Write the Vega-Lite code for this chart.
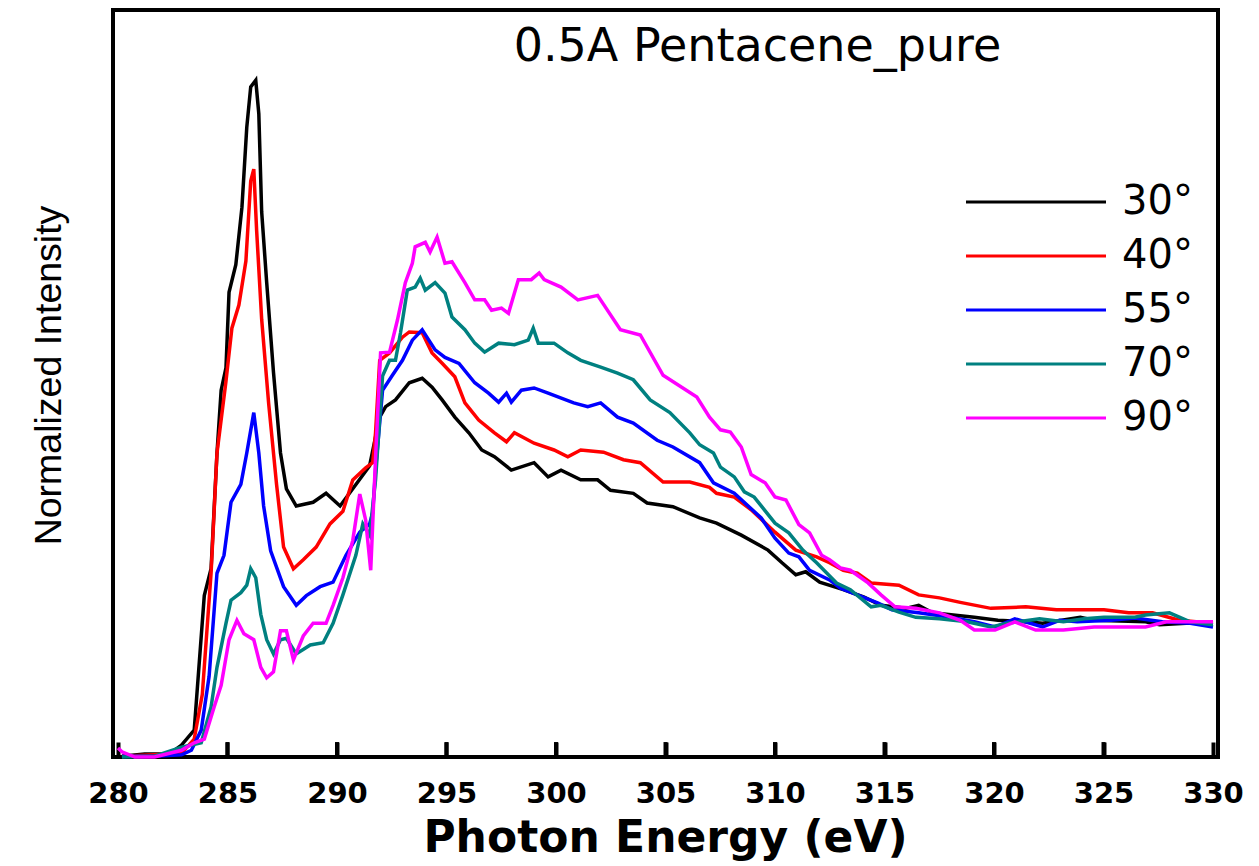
{
  "$schema": "https://vega.github.io/schema/vega-lite/v6.json",
  "width": 1105,
  "height": 747,
  "autosize": {"type": "none"},
  "padding": {"left": 113, "top": 10, "right": 41, "bottom": 109},
  "config": {
    "view": {"stroke": "#000000", "strokeWidth": 4},
    "font": "Liberation Sans"
  },
  "title": {
    "text": "0.5A Pentacene_pure",
    "anchor": "middle",
    "dx": 92,
    "dy": 45,
    "offset": -52,
    "baseline": "alphabetic",
    "font": "DejaVu Sans",
    "fontSize": 46,
    "fontWeight": "normal",
    "color": "black"
  },
  "layer": [
    {
      "data": {"values": [{"e": 285}, {"e": 290}, {"e": 295}, {"e": 300}, {"e": 305}, {"e": 310}, {"e": 315}, {"e": 320}, {"e": 325}]},
      "mark": {"type": "bar", "size": 4, "color": "#000000"},
      "encoding": {
        "x": {"field": "e", "type": "quantitative"},
        "y": {"datum": 0},
        "y2": {"datum": 0.02}
      }
    },
    {
      "data": {
        "values": [
      {"a":"30°","e":280.18,"v":0.001},{"a":"30°","e":281.22,"v":0.004},{"a":"30°","e":282.35,"v":0.004},{"a":"30°","e":282.90,"v":0.016},{"a":"30°","e":283.48,"v":0.036},{"a":"30°","e":283.94,"v":0.216},{"a":"30°","e":284.25,"v":0.252},{"a":"30°","e":284.52,"v":0.407},{"a":"30°","e":284.71,"v":0.491},{"a":"30°","e":284.93,"v":0.521},{"a":"30°","e":285.07,"v":0.622},{"a":"30°","e":285.38,"v":0.659},{"a":"30°","e":285.66,"v":0.736},{"a":"30°","e":285.88,"v":0.843},{"a":"30°","e":286.06,"v":0.897},{"a":"30°","e":286.29,"v":0.906},{"a":"30°","e":286.43,"v":0.861},{"a":"30°","e":286.56,"v":0.730},{"a":"30°","e":286.79,"v":0.635},{"a":"30°","e":287.10,"v":0.515},{"a":"30°","e":287.42,"v":0.407},{"a":"30°","e":287.69,"v":0.359},{"a":"30°","e":288.14,"v":0.336},{"a":"30°","e":288.91,"v":0.341},{"a":"30°","e":289.50,"v":0.353},{"a":"30°","e":290.14,"v":0.336},{"a":"30°","e":290.72,"v":0.359},{"a":"30°","e":291.49,"v":0.390},{"a":"30°","e":291.95,"v":0.455},{"a":"30°","e":292.22,"v":0.469},{"a":"30°","e":292.67,"v":0.478},{"a":"30°","e":293.30,"v":0.501},{"a":"30°","e":293.89,"v":0.507},{"a":"30°","e":294.34,"v":0.495},{"a":"30°","e":294.80,"v":0.478},{"a":"30°","e":295.38,"v":0.455},{"a":"30°","e":296.02,"v":0.434},{"a":"30°","e":296.61,"v":0.411},{"a":"30°","e":297.19,"v":0.402},{"a":"30°","e":297.96,"v":0.384},{"a":"30°","e":299.00,"v":0.394},{"a":"30°","e":299.64,"v":0.375},{"a":"30°","e":300.23,"v":0.384},{"a":"30°","e":301.13,"v":0.371},{"a":"30°","e":301.90,"v":0.371},{"a":"30°","e":302.49,"v":0.357},{"a":"30°","e":303.53,"v":0.353},{"a":"30°","e":304.16,"v":0.340},{"a":"30°","e":305.34,"v":0.335},{"a":"30°","e":306.56,"v":0.320},{"a":"30°","e":307.33,"v":0.313},{"a":"30°","e":308.46,"v":0.297},{"a":"30°","e":309.68,"v":0.277},{"a":"30°","e":310.32,"v":0.260},{"a":"30°","e":310.95,"v":0.244},{"a":"30°","e":311.40,"v":0.248},{"a":"30°","e":312.04,"v":0.234},{"a":"30°","e":313.12,"v":0.224},{"a":"30°","e":314.07,"v":0.214},{"a":"30°","e":314.84,"v":0.203},{"a":"30°","e":315.97,"v":0.199},{"a":"30°","e":316.56,"v":0.203},{"a":"30°","e":317.19,"v":0.193},{"a":"30°","e":319.10,"v":0.187},{"a":"30°","e":320.18,"v":0.183},{"a":"30°","e":321.45,"v":0.181},{"a":"30°","e":322.22,"v":0.179},{"a":"30°","e":323.94,"v":0.187},{"a":"30°","e":324.57,"v":0.183},{"a":"30°","e":326.92,"v":0.181},{"a":"30°","e":327.56,"v":0.177},{"a":"30°","e":328.78,"v":0.179},{"a":"30°","e":330.00,"v":0.179},

      {"a":"40°","e":280.18,"v":0.001},{"a":"40°","e":281.67,"v":0.003},{"a":"40°","e":282.90,"v":0.005},{"a":"40°","e":283.48,"v":0.024},{"a":"40°","e":283.85,"v":0.084},{"a":"40°","e":284.25,"v":0.246},{"a":"40°","e":284.52,"v":0.407},{"a":"40°","e":284.93,"v":0.503},{"a":"40°","e":285.20,"v":0.574},{"a":"40°","e":285.52,"v":0.605},{"a":"40°","e":285.84,"v":0.664},{"a":"40°","e":286.06,"v":0.771},{"a":"40°","e":286.20,"v":0.787},{"a":"40°","e":286.33,"v":0.705},{"a":"40°","e":286.56,"v":0.586},{"a":"40°","e":286.88,"v":0.473},{"a":"40°","e":287.24,"v":0.365},{"a":"40°","e":287.56,"v":0.281},{"a":"40°","e":288.01,"v":0.252},{"a":"40°","e":288.46,"v":0.264},{"a":"40°","e":289.05,"v":0.281},{"a":"40°","e":289.68,"v":0.312},{"a":"40°","e":290.27,"v":0.329},{"a":"40°","e":290.72,"v":0.371},{"a":"40°","e":291.31,"v":0.387},{"a":"40°","e":291.63,"v":0.394},{"a":"40°","e":291.76,"v":0.434},{"a":"40°","e":291.95,"v":0.531},{"a":"40°","e":292.40,"v":0.541},{"a":"40°","e":292.99,"v":0.562},{"a":"40°","e":293.30,"v":0.569},{"a":"40°","e":293.89,"v":0.568},{"a":"40°","e":294.34,"v":0.541},{"a":"40°","e":294.80,"v":0.527},{"a":"40°","e":295.38,"v":0.509},{"a":"40°","e":295.84,"v":0.474},{"a":"40°","e":296.47,"v":0.451},{"a":"40°","e":297.19,"v":0.434},{"a":"40°","e":297.74,"v":0.422},{"a":"40°","e":298.10,"v":0.434},{"a":"40°","e":299.00,"v":0.420},{"a":"40°","e":299.91,"v":0.411},{"a":"40°","e":300.54,"v":0.402},{"a":"40°","e":301.13,"v":0.411},{"a":"40°","e":302.17,"v":0.408},{"a":"40°","e":303.08,"v":0.398},{"a":"40°","e":303.85,"v":0.394},{"a":"40°","e":304.89,"v":0.368},{"a":"40°","e":306.11,"v":0.368},{"a":"40°","e":307.01,"v":0.361},{"a":"40°","e":307.33,"v":0.353},{"a":"40°","e":308.14,"v":0.348},{"a":"40°","e":308.91,"v":0.331},{"a":"40°","e":310.00,"v":0.301},{"a":"40°","e":310.95,"v":0.277},{"a":"40°","e":311.90,"v":0.268},{"a":"40°","e":312.49,"v":0.260},{"a":"40°","e":313.12,"v":0.250},{"a":"40°","e":313.76,"v":0.246},{"a":"40°","e":314.39,"v":0.233},{"a":"40°","e":315.66,"v":0.230},{"a":"40°","e":316.56,"v":0.217},{"a":"40°","e":317.51,"v":0.213},{"a":"40°","e":318.46,"v":0.207},{"a":"40°","e":319.86,"v":0.199},{"a":"40°","e":321.45,"v":0.201},{"a":"40°","e":322.85,"v":0.197},{"a":"40°","e":325.02,"v":0.197},{"a":"40°","e":326.15,"v":0.193},{"a":"40°","e":327.24,"v":0.193},{"a":"40°","e":328.46,"v":0.183},{"a":"40°","e":330.00,"v":0.179},

      {"a":"55°","e":280.18,"v":0.001},{"a":"55°","e":281.67,"v":0.001},{"a":"55°","e":282.90,"v":0.003},{"a":"55°","e":283.35,"v":0.009},{"a":"55°","e":283.80,"v":0.036},{"a":"55°","e":284.16,"v":0.108},{"a":"55°","e":284.52,"v":0.246},{"a":"55°","e":284.84,"v":0.270},{"a":"55°","e":285.16,"v":0.341},{"a":"55°","e":285.61,"v":0.365},{"a":"55°","e":285.88,"v":0.407},{"a":"55°","e":286.20,"v":0.461},{"a":"55°","e":286.43,"v":0.407},{"a":"55°","e":286.65,"v":0.336},{"a":"55°","e":286.97,"v":0.276},{"a":"55°","e":287.56,"v":0.228},{"a":"55°","e":288.14,"v":0.203},{"a":"55°","e":288.60,"v":0.216},{"a":"55°","e":289.23,"v":0.228},{"a":"55°","e":289.82,"v":0.234},{"a":"55°","e":290.41,"v":0.270},{"a":"55°","e":291.04,"v":0.301},{"a":"55°","e":291.49,"v":0.312},{"a":"55°","e":291.63,"v":0.327},{"a":"55°","e":291.76,"v":0.384},{"a":"55°","e":292.08,"v":0.491},{"a":"55°","e":292.53,"v":0.511},{"a":"55°","e":292.99,"v":0.531},{"a":"55°","e":293.44,"v":0.558},{"a":"55°","e":293.89,"v":0.572},{"a":"55°","e":294.48,"v":0.545},{"a":"55°","e":294.93,"v":0.535},{"a":"55°","e":295.57,"v":0.527},{"a":"55°","e":296.29,"v":0.501},{"a":"55°","e":296.92,"v":0.487},{"a":"55°","e":297.38,"v":0.475},{"a":"55°","e":297.74,"v":0.487},{"a":"55°","e":297.96,"v":0.475},{"a":"55°","e":298.42,"v":0.491},{"a":"55°","e":299.00,"v":0.494},{"a":"55°","e":299.64,"v":0.487},{"a":"55°","e":300.81,"v":0.474},{"a":"55°","e":301.45,"v":0.469},{"a":"55°","e":302.04,"v":0.474},{"a":"55°","e":302.81,"v":0.455},{"a":"55°","e":303.53,"v":0.447},{"a":"55°","e":304.62,"v":0.424},{"a":"55°","e":305.34,"v":0.415},{"a":"55°","e":306.56,"v":0.394},{"a":"55°","e":307.19,"v":0.367},{"a":"55°","e":308.14,"v":0.353},{"a":"55°","e":309.37,"v":0.320},{"a":"55°","e":310.00,"v":0.293},{"a":"55°","e":310.63,"v":0.273},{"a":"55°","e":311.09,"v":0.268},{"a":"55°","e":311.58,"v":0.250},{"a":"55°","e":312.49,"v":0.237},{"a":"55°","e":312.99,"v":0.226},{"a":"55°","e":313.76,"v":0.217},{"a":"55°","e":314.71,"v":0.206},{"a":"55°","e":315.34,"v":0.197},{"a":"55°","e":316.56,"v":0.193},{"a":"55°","e":318.01,"v":0.187},{"a":"55°","e":319.10,"v":0.181},{"a":"55°","e":320.05,"v":0.174},{"a":"55°","e":320.95,"v":0.185},{"a":"55°","e":322.22,"v":0.174},{"a":"55°","e":322.99,"v":0.183},{"a":"55°","e":323.80,"v":0.181},{"a":"55°","e":325.34,"v":0.183},{"a":"55°","e":326.43,"v":0.186},{"a":"55°","e":327.69,"v":0.181},{"a":"55°","e":328.96,"v":0.179},{"a":"55°","e":330.00,"v":0.174},

      {"a":"70°","e":280.18,"v":0.000},{"a":"70°","e":281.67,"v":0.001},{"a":"70°","e":282.90,"v":0.013},{"a":"70°","e":283.80,"v":0.019},{"a":"70°","e":284.25,"v":0.067},{"a":"70°","e":284.52,"v":0.120},{"a":"70°","e":284.93,"v":0.179},{"a":"70°","e":285.16,"v":0.210},{"a":"70°","e":285.61,"v":0.220},{"a":"70°","e":285.88,"v":0.230},{"a":"70°","e":286.06,"v":0.252},{"a":"70°","e":286.29,"v":0.240},{"a":"70°","e":286.52,"v":0.191},{"a":"70°","e":286.79,"v":0.157},{"a":"70°","e":287.10,"v":0.138},{"a":"70°","e":287.42,"v":0.157},{"a":"70°","e":287.69,"v":0.159},{"a":"70°","e":288.14,"v":0.138},{"a":"70°","e":288.78,"v":0.150},{"a":"70°","e":289.37,"v":0.153},{"a":"70°","e":289.82,"v":0.179},{"a":"70°","e":290.27,"v":0.217},{"a":"70°","e":290.86,"v":0.270},{"a":"70°","e":291.18,"v":0.312},{"a":"70°","e":291.49,"v":0.297},{"a":"70°","e":291.76,"v":0.371},{"a":"70°","e":292.08,"v":0.510},{"a":"70°","e":292.40,"v":0.531},{"a":"70°","e":292.67,"v":0.531},{"a":"70°","e":292.90,"v":0.568},{"a":"70°","e":293.21,"v":0.625},{"a":"70°","e":293.57,"v":0.629},{"a":"70°","e":293.80,"v":0.641},{"a":"70°","e":294.03,"v":0.625},{"a":"70°","e":294.48,"v":0.635},{"a":"70°","e":294.93,"v":0.621},{"a":"70°","e":295.25,"v":0.589},{"a":"70°","e":295.84,"v":0.572},{"a":"70°","e":296.29,"v":0.554},{"a":"70°","e":296.74,"v":0.542},{"a":"70°","e":297.38,"v":0.554},{"a":"70°","e":298.10,"v":0.552},{"a":"70°","e":298.73,"v":0.558},{"a":"70°","e":298.96,"v":0.574},{"a":"70°","e":299.19,"v":0.554},{"a":"70°","e":299.91,"v":0.554},{"a":"70°","e":300.54,"v":0.541},{"a":"70°","e":301.13,"v":0.531},{"a":"70°","e":302.04,"v":0.522},{"a":"70°","e":302.81,"v":0.514},{"a":"70°","e":303.53,"v":0.505},{"a":"70°","e":304.30,"v":0.478},{"a":"70°","e":305.20,"v":0.461},{"a":"70°","e":306.11,"v":0.434},{"a":"70°","e":306.56,"v":0.418},{"a":"70°","e":307.19,"v":0.407},{"a":"70°","e":307.51,"v":0.388},{"a":"70°","e":308.14,"v":0.375},{"a":"70°","e":308.60,"v":0.355},{"a":"70°","e":309.05,"v":0.348},{"a":"70°","e":310.00,"v":0.313},{"a":"70°","e":310.63,"v":0.300},{"a":"70°","e":311.27,"v":0.277},{"a":"70°","e":311.90,"v":0.260},{"a":"70°","e":312.81,"v":0.233},{"a":"70°","e":313.44,"v":0.224},{"a":"70°","e":314.39,"v":0.201},{"a":"70°","e":314.84,"v":0.203},{"a":"70°","e":315.66,"v":0.194},{"a":"70°","e":316.43,"v":0.187},{"a":"70°","e":317.51,"v":0.185},{"a":"70°","e":318.78,"v":0.181},{"a":"70°","e":319.86,"v":0.174},{"a":"70°","e":320.63,"v":0.179},{"a":"70°","e":322.08,"v":0.185},{"a":"70°","e":323.17,"v":0.181},{"a":"70°","e":324.12,"v":0.185},{"a":"70°","e":325.02,"v":0.187},{"a":"70°","e":326.43,"v":0.187},{"a":"70°","e":326.92,"v":0.190},{"a":"70°","e":328.01,"v":0.193},{"a":"70°","e":328.96,"v":0.181},{"a":"70°","e":330.00,"v":0.177},

      {"a":"90°","e":280.00,"v":0.012},{"a":"90°","e":280.18,"v":0.007},{"a":"90°","e":280.77,"v":0.000},{"a":"90°","e":281.67,"v":0.000},{"a":"90°","e":282.90,"v":0.009},{"a":"90°","e":283.48,"v":0.019},{"a":"90°","e":283.94,"v":0.024},{"a":"90°","e":284.39,"v":0.067},{"a":"90°","e":284.71,"v":0.096},{"a":"90°","e":285.07,"v":0.157},{"a":"90°","e":285.43,"v":0.183},{"a":"90°","e":285.75,"v":0.165},{"a":"90°","e":286.20,"v":0.157},{"a":"90°","e":286.52,"v":0.120},{"a":"90°","e":286.79,"v":0.106},{"a":"90°","e":287.10,"v":0.114},{"a":"90°","e":287.42,"v":0.169},{"a":"90°","e":287.69,"v":0.169},{"a":"90°","e":288.01,"v":0.130},{"a":"90°","e":288.46,"v":0.162},{"a":"90°","e":288.91,"v":0.179},{"a":"90°","e":289.50,"v":0.179},{"a":"90°","e":289.82,"v":0.203},{"a":"90°","e":290.27,"v":0.240},{"a":"90°","e":290.72,"v":0.290},{"a":"90°","e":291.04,"v":0.352},{"a":"90°","e":291.31,"v":0.317},{"a":"90°","e":291.54,"v":0.250},{"a":"90°","e":291.76,"v":0.400},{"a":"90°","e":291.99,"v":0.541},{"a":"90°","e":292.40,"v":0.542},{"a":"90°","e":292.76,"v":0.585},{"a":"90°","e":293.12,"v":0.635},{"a":"90°","e":293.44,"v":0.661},{"a":"90°","e":293.57,"v":0.683},{"a":"90°","e":294.03,"v":0.689},{"a":"90°","e":294.25,"v":0.676},{"a":"90°","e":294.57,"v":0.696},{"a":"90°","e":294.93,"v":0.661},{"a":"90°","e":295.25,"v":0.663},{"a":"90°","e":295.84,"v":0.635},{"a":"90°","e":296.29,"v":0.612},{"a":"90°","e":296.74,"v":0.612},{"a":"90°","e":297.06,"v":0.598},{"a":"90°","e":297.51,"v":0.601},{"a":"90°","e":297.83,"v":0.594},{"a":"90°","e":298.28,"v":0.639},{"a":"90°","e":298.87,"v":0.639},{"a":"90°","e":299.23,"v":0.648},{"a":"90°","e":299.46,"v":0.639},{"a":"90°","e":300.23,"v":0.629},{"a":"90°","e":301.00,"v":0.612},{"a":"90°","e":301.90,"v":0.618},{"a":"90°","e":302.94,"v":0.572},{"a":"90°","e":303.85,"v":0.565},{"a":"90°","e":304.89,"v":0.511},{"a":"90°","e":306.43,"v":0.482},{"a":"90°","e":307.01,"v":0.455},{"a":"90°","e":307.51,"v":0.438},{"a":"90°","e":307.96,"v":0.435},{"a":"90°","e":308.46,"v":0.415},{"a":"90°","e":308.91,"v":0.378},{"a":"90°","e":309.55,"v":0.367},{"a":"90°","e":310.00,"v":0.348},{"a":"90°","e":310.50,"v":0.344},{"a":"90°","e":311.09,"v":0.311},{"a":"90°","e":311.58,"v":0.300},{"a":"90°","e":312.13,"v":0.270},{"a":"90°","e":312.49,"v":0.264},{"a":"90°","e":312.99,"v":0.253},{"a":"90°","e":313.44,"v":0.250},{"a":"90°","e":314.25,"v":0.233},{"a":"90°","e":314.84,"v":0.217},{"a":"90°","e":315.48,"v":0.201},{"a":"90°","e":316.43,"v":0.199},{"a":"90°","e":317.51,"v":0.193},{"a":"90°","e":318.46,"v":0.183},{"a":"90°","e":319.10,"v":0.170},{"a":"90°","e":320.05,"v":0.170},{"a":"90°","e":320.95,"v":0.181},{"a":"90°","e":321.90,"v":0.170},{"a":"90°","e":323.17,"v":0.170},{"a":"90°","e":324.57,"v":0.174},{"a":"90°","e":326.92,"v":0.174},{"a":"90°","e":327.87,"v":0.181},{"a":"90°","e":330.00,"v":0.181}
        ]
      },
      "mark": {"type": "line", "strokeWidth": 3.5},
      "encoding": {
        "x": {
          "field": "e",
          "type": "quantitative",
          "scale": {"domain": [280, 330], "nice": false, "zero": false},
          "axis": {
            "title": "Photon Energy (eV)",
            "values": [280, 285, 290, 295, 300, 305, 310, 315, 320, 325, 330],
            "offset": -15,
            "grid": false,
            "domain": false,
            "tickSize": 15,
            "tickWidth": 4,
            "tickColor": "#000000",
            "labelPadding": 22,
            "labelFlush": false,
            "labelOverlap": false,
            "labelFont": "DejaVu Sans",
            "labelFontWeight": "bold",
            "labelFontSize": 29,
            "labelColor": "black",
            "titleFont": "DejaVu Sans",
            "titleFontWeight": "bold",
            "titleFontSize": 44,
            "titleColor": "black",
            "titleBaseline": "alphabetic",
            "titleY": 109,
            "titleX": 552
          }
        },
        "y": {
          "field": "v",
          "type": "quantitative",
          "scale": {"domain": [0, 1], "nice": false, "zero": false},
          "axis": {
            "title": "Normalized Intensity",
            "grid": false,
            "domain": false,
            "ticks": false,
            "labels": false,
            "titleFont": "Liberation Sans",
            "titleFontWeight": "normal",
            "titleFontSize": 37.5,
            "titleColor": "black",
            "titleBaseline": "alphabetic",
            "titleAngle": 270,
            "titleX": -53,
            "titleY": 365
          }
        },
        "color": {
          "field": "a",
          "type": "nominal",
          "scale": {
            "domain": ["30°", "40°", "55°", "70°", "90°"],
            "range": ["#000000", "#FF0000", "#0000FF", "#008080", "#FF00FF"]
          },
          "legend": {
            "title": null,
            "orient": "none",
            "legendX": 903,
            "legendY": 172,
            "padding": 0,
            "symbolType": "M-7,0H7",
            "symbolSize": 400,
            "symbolStrokeWidth": 3,
            "symbolFillColor": "transparent",
            "labelFont": "DejaVu Sans",
            "labelFontSize": 40,
            "labelColor": "black",
            "labelOffset": 66,
            "labelBaseline": "middle",
            "rowPadding": 14
          }
        }
      }
    }
  ]
}
